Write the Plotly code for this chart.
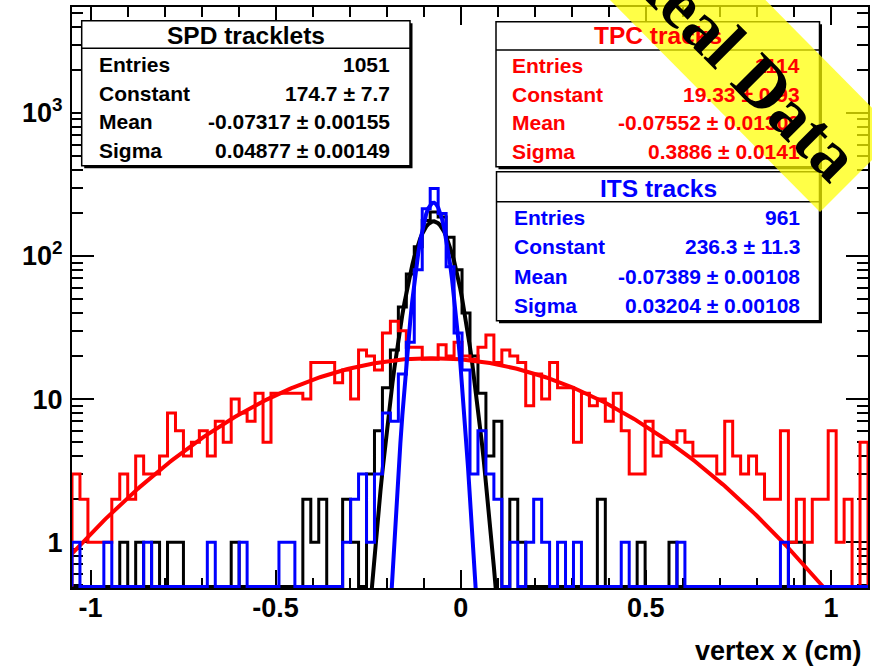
import numpy as np
import plotly.graph_objects as go

# ---------------- data ----------------
x_min, x_max, n_bins = -1.05, 1.10, 100
bin_edges = np.linspace(x_min, x_max, n_bins + 1)

spd_counts = [0, 0, 0, 0, 0, 0, 1, 0, 1, 0,
              1, 0, 1, 1, 0, 0, 0, 0, 0, 0,
              1, 0, 0, 0, 0, 0, 0, 0, 0, 2,
              1, 2, 0, 0, 2, 1, 0, 3, 6, 12,
              22, 44, 75, 116, 177, 203, 187, 135, 80, 40,
              20, 11, 4, 7, 0, 2, 1, 0, 0, 0,
              0, 0, 0, 0, 0, 0, 2, 0, 0, 0,
              0, 1, 0, 0, 0, 1, 0, 0, 0, 0,
              0, 0, 0, 0, 0, 0, 0, 0, 0, 0,
              1, 1, 0, 0, 0, 0, 0, 0, 0, 0]

tpc_counts = [3, 2, 1, 1, 1, 2, 3, 2, 4, 3,
              3, 4, 8, 6, 4, 5, 6, 4, 7, 5,
              10, 8, 7, 11, 5, 11, 11, 11, 11, 10,
              18, 18, 18, 13, 16, 10, 22, 20, 16, 29,
              35, 30, 23, 23, 19, 19, 24, 20, 25, 20,
              19, 23, 28, 18, 22, 20, 18, 9, 15, 10,
              18, 12, 12, 5, 11, 9, 10, 7, 11, 6,
              3, 3, 7, 4, 5, 5, 6, 5, 4, 4,
              4, 3, 7, 4, 3, 4, 3, 2, 2, 6,
              1, 2, 1, 2, 2, 6, 1, 2, 0, 5]

its_counts = [1, 0, 0, 0, 1, 0, 0, 0, 0, 1,
              0, 0, 0, 0, 0, 0, 0, 1, 0, 0,
              0, 1, 0, 0, 0, 0, 1, 1, 0, 0,
              0, 0, 0, 0, 1, 2, 3, 1, 3, 8,
              7, 15, 25, 80, 214, 296, 198, 84, 29, 16,
              3, 6, 3, 2, 0, 1, 0, 1, 2, 1,
              0, 1, 0, 1, 0, 0, 0, 0, 0, 1,
              0, 0, 0, 0, 0, 0, 1, 0, 0, 0,
              0, 0, 0, 0, 0, 0, 0, 0, 0, 1,
              0, 0, 0, 0, 0, 0, 0, 0, 0, 0]

# Gaussian fit parameters shown in the stat boxes: constant, mean, sigma
spd_fit = [174.7, -0.07317, 0.04877]
tpc_fit = [19.33, -0.07552, 0.3886]
its_fit = [236.3, -0.07389, 0.03204]

spd_stats = ["1051", "174.7 \u00b1 7.7", "-0.07317 \u00b1 0.00155", "0.04877 \u00b1 0.00149"]
tpc_stats = ["1114", "19.33 \u00b1 0.93", "-0.07552 \u00b1 0.01309", "0.3886 \u00b1 0.0141"]
its_stats = ["961", "236.3 \u00b1 11.3", "-0.07389 \u00b1 0.00108", "0.03204 \u00b1 0.00108"]
stat_labels = ["Entries", "Constant", "Mean", "Sigma"]

x_tickvals = [-1, -0.5, 0, 0.5, 1]
x_ticktext = ["-1", "-0.5", "0", "0.5", "1"]
y_tickvals = [1, 10, 100, 1000]
y_ticktext = ["1", "10", "10<sup>2</sup>", "10<sup>3</sup>"]

# ---------------- layout geometry ----------------
W, H = 872, 670
ML, MR, MT, MB = 72, 4, 7, 82
PW, PH = W - ML - MR, H - MT - MB
y_log_range = [-0.32, 3.74]
px_per_decade = PH / (y_log_range[1] - y_log_range[0])
# empty bins are drawn on the bottom edge of the frame (as ROOT does)
y_floor = 10 ** (y_log_range[0] + 1.5 / px_per_decade)

FONT = "Liberation Sans, Arial, Helvetica, sans-serif"


def px(x):
    return (x - ML) / PW


def py(y):
    return (H - MB - y) / PH


fig = go.Figure()


def hist_trace(counts, color):
    c = [v if v > 0 else y_floor for v in counts]
    xs = [bin_edges[0]] + list(bin_edges[:-1]) + [bin_edges[-1], bin_edges[-1]]
    ys = [y_floor] + c + [c[-1], y_floor]
    return go.Scatter(x=xs, y=ys, mode="lines", line=dict(color=color, width=3, shape="hv"),
                      hoverinfo="skip", showlegend=False)


def fit_trace(p, color):
    xf = np.linspace(x_min, x_max, 401)
    yf = p[0] * np.exp(-0.5 * ((xf - p[1]) / p[2]) ** 2)
    yf = np.maximum(yf, 1e-3)
    return go.Scatter(x=xf, y=yf, mode="lines", line=dict(color=color, width=4),
                      hoverinfo="skip", showlegend=False)


fig.add_trace(hist_trace(spd_counts, "black"))
fig.add_trace(fit_trace(spd_fit, "black"))
fig.add_trace(hist_trace(tpc_counts, "#ff0000"))
fig.add_trace(fit_trace(tpc_fit, "#ff0000"))
fig.add_trace(hist_trace(its_counts, "#0000ff"))
fig.add_trace(fit_trace(its_fit, "#0000ff"))

minor_y = [m * 10 ** d for d in range(-1, 4) for m in range(2, 10)]
minor_y = [v for v in minor_y if 10 ** y_log_range[0] <= v <= 10 ** y_log_range[1]]

fig.update_layout(
    width=W, height=H, margin=dict(l=ML, r=MR, t=MT, b=MB, autoexpand=False),
    paper_bgcolor="white", plot_bgcolor="white",
    font=dict(family=FONT, color="black"),
    xaxis=dict(range=[x_min, x_max], showgrid=False, zeroline=False,
               showline=True, linecolor="black", linewidth=2, mirror="allticks",
               ticks="inside", ticklen=18, tickwidth=1.5, tickcolor="black",
               tickmode="array", tickvals=x_tickvals, ticktext=x_ticktext,
               tickfont=dict(size=27, family=FONT, weight="bold"),
               ticklabelstandoff=-5, layer="below traces",
               minor=dict(ticks="inside", ticklen=10, tickwidth=1.5, tickcolor="black",
                          tickmode="linear", tick0=0, dtick=0.1, showgrid=False)),
    yaxis=dict(type="log", range=y_log_range, showgrid=False, zeroline=False,
               showline=True, linecolor="black", linewidth=2, mirror="allticks",
               ticks="inside", ticklen=22, tickwidth=1.5, tickcolor="black",
               tickmode="array", tickvals=y_tickvals, ticktext=y_ticktext,
               tickfont=dict(size=27, family=FONT, weight="bold"),
               ticklabelstandoff=2, layer="below traces",
               minor=dict(ticks="inside", ticklen=11, tickwidth=1.5, tickcolor="black",
                          tickmode="array", tickvals=minor_y, showgrid=False)),
)

shapes = []
annotations = []


def stat_box(x0, y0, x1, y1, ysep, title, values, color, title_y, row_y, lab_x, val_x):
    shapes.append(dict(type="rect", xref="paper", yref="paper",
                       x0=px(x0 + 2.5), x1=px(x1 + 2.5), y0=py(y0 + 2.5), y1=py(y1 + 2.5),
                       fillcolor="black", line=dict(width=0), layer="above"))
    shapes.append(dict(type="rect", xref="paper", yref="paper",
                       x0=px(x0), x1=px(x1), y0=py(y0), y1=py(y1),
                       fillcolor="white", line=dict(color="black", width=1.5), layer="above"))
    shapes.append(dict(type="line", xref="paper", yref="paper",
                       x0=px(x0), x1=px(x1), y0=py(ysep), y1=py(ysep),
                       line=dict(color="black", width=1.5), layer="above"))
    annotations.append(dict(xref="paper", yref="paper", x=px((x0 + x1) / 2), y=py(title_y),
                            text=title, showarrow=False, xanchor="center", yanchor="middle",
                            font=dict(size=24.5, color=color, family=FONT, weight="bold")))
    for lab, val, yy in zip(stat_labels, values, row_y):
        annotations.append(dict(xref="paper", yref="paper", x=px(lab_x), y=py(yy), text=lab,
                                showarrow=False, xanchor="left", yanchor="middle",
                                font=dict(size=21, color=color, family=FONT, weight="bold")))
        annotations.append(dict(xref="paper", yref="paper", x=px(val_x), y=py(yy), text=val,
                                showarrow=False, xanchor="right", yanchor="middle",
                                font=dict(size=21, color=color, family=FONT, weight="bold")))


stat_box(81.7, 20.7, 410, 165.7, 48.3, "SPD tracklets", spd_stats, "black",
         35, [64.3, 93.3, 121.7, 150], 96.7, 391.7)
stat_box(496, 21.7, 819.5, 166.7, 50, "TPC tracks", tpc_stats, "#ff0000",
         35.5, [65.7, 94.3, 122.3, 151], 510, 801.7)
stat_box(496.5, 171.7, 819.5, 320.7, 201.7, "ITS tracks", its_stats, "#0000ff",
         188.3, [217.3, 246.7, 276, 305], 511.7, 801.7)

# yellow "Real Data" band
band = [(604, -6), (820, 212), (898, 134), (759.5, -6)]
path = "M " + " L ".join(f"{px(a):.5f},{py(b):.5f}" for a, b in band) + " Z"
shapes.append(dict(type="path", xref="paper", yref="paper", path=path,
                   fillcolor="rgba(255,255,0,0.72)", line=dict(width=0), layer="above"))
annotations.append(dict(xref="paper", yref="paper", x=px(741), y=py(63), text="Real Data",
                        showarrow=False, textangle=45, xanchor="center", yanchor="middle",
                        font=dict(size=70, color="black",
                                  family="Liberation Serif, Times New Roman, serif", weight="bold")))

# axis title
annotations.append(dict(xref="paper", yref="paper", x=px(864), y=py(651), text="vertex x (cm)",
                        showarrow=False, xanchor="right", yanchor="middle",
                        font=dict(size=27, color="black", family=FONT, weight="bold")))

fig.update_layout(shapes=shapes, annotations=annotations)
fig.write_html("out.html")
